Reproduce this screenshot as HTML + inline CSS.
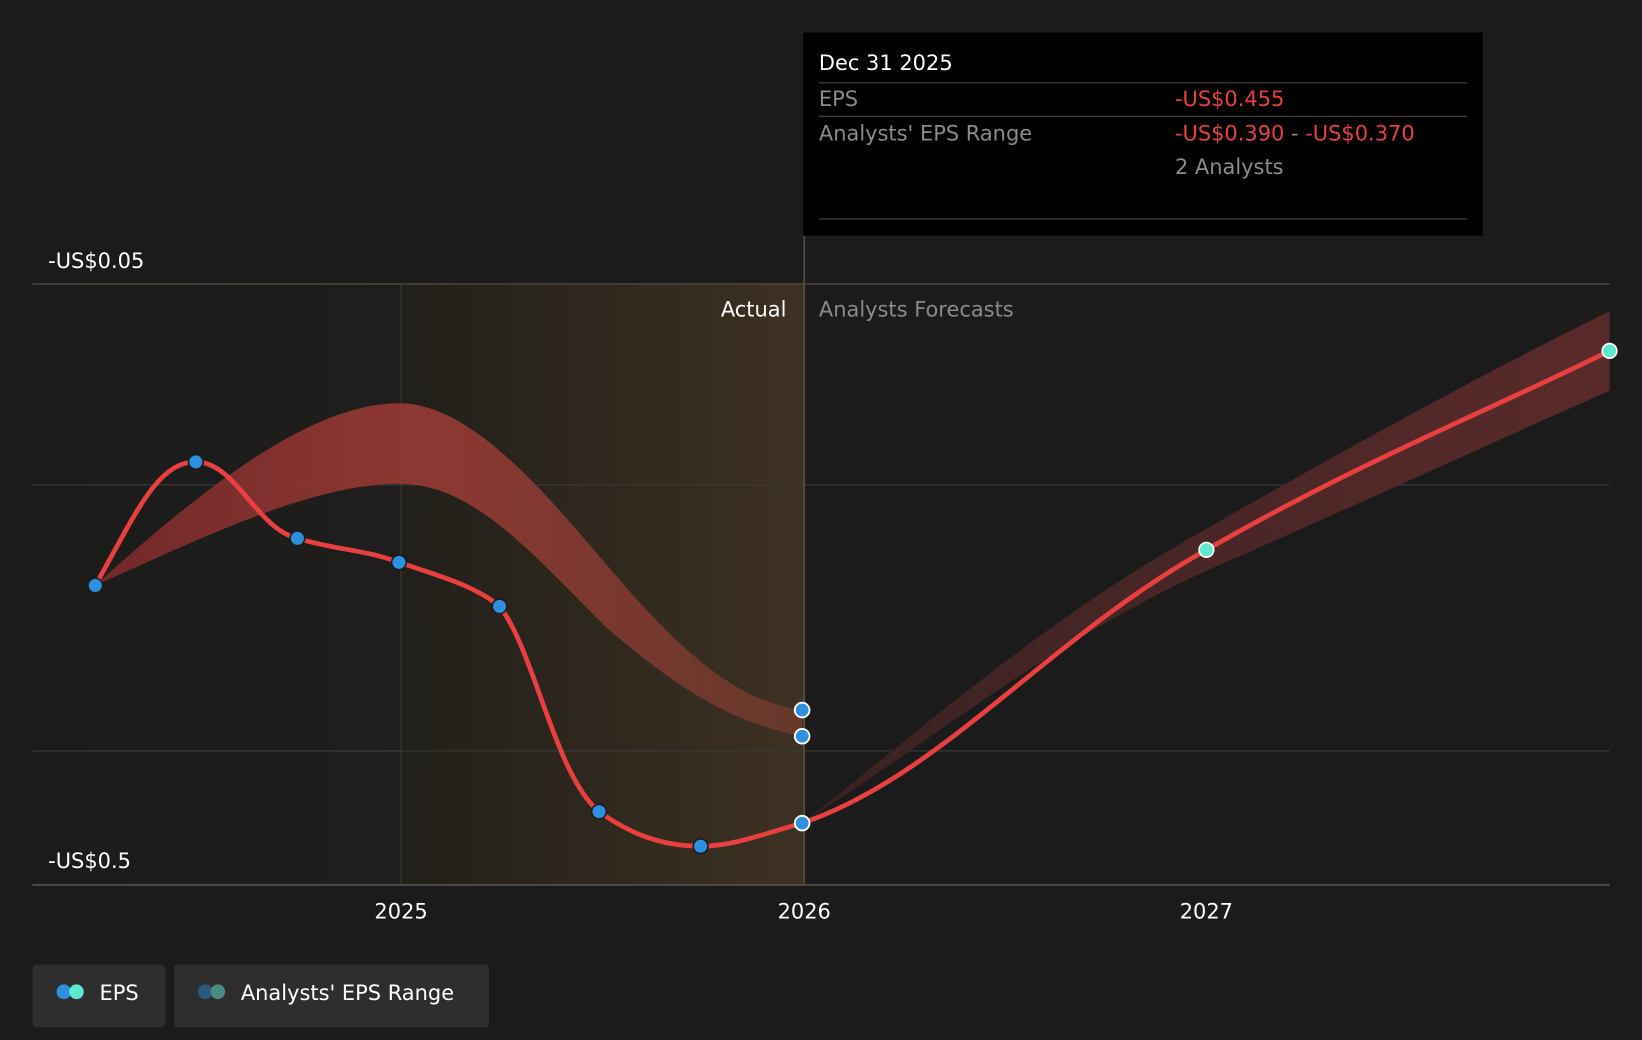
<!DOCTYPE html>
<html><head><meta charset="utf-8"><style>
html,body{margin:0;padding:0;background:#1b1b1b;}
svg{display:block;font-family:"DejaVu Sans","Liberation Sans",sans-serif;}
</style></head><body>
<svg width="1642" height="1040" viewBox="0 0 1568 993" xmlns="http://www.w3.org/2000/svg">
<defs>
<linearGradient id="act" x1="0" x2="1" y1="0" y2="0">
<stop offset="0" stop-color="#211f1a"/><stop offset="1" stop-color="#3d3122"/>
</linearGradient>
<linearGradient id="pre" x1="0" x2="1" y1="0" y2="0">
<stop offset="0" stop-color="#1b1b1b"/><stop offset="1" stop-color="#1f1e1c"/>
</linearGradient>
<linearGradient id="band1" x1="0" x2="1" y1="0" y2="0">
<stop offset="0" stop-color="#7a2a2a"/><stop offset="0.45" stop-color="#9a3a35"/><stop offset="1" stop-color="#6a3a2c"/>
</linearGradient>
<linearGradient id="band2" x1="0" x2="1" y1="0" y2="0">
<stop offset="0" stop-color="#3a2222"/><stop offset="1" stop-color="#5a2a2a"/>
</linearGradient>
</defs>
<rect width="1568" height="993" fill="#1b1b1b"/>
<rect x="31" y="271" width="352" height="574" fill="url(#pre)"/>
<rect x="383" y="271" width="385" height="574" fill="url(#act)"/>
<line x1="31" y1="271" x2="1537" y2="271" stroke="#4a4740" stroke-width="1.5"/>
<line x1="31" y1="463" x2="1537" y2="463" stroke="#3a3834" stroke-width="1.2"/>
<line x1="31" y1="717" x2="1537" y2="717" stroke="#3a3834" stroke-width="1.2"/>
<line x1="31" y1="845" x2="1537" y2="845" stroke="#555" stroke-width="1.5"/>
<line x1="383" y1="271" x2="383" y2="845" stroke="#3f3a30" stroke-width="1"/>
<line x1="768" y1="225" x2="768" y2="845" stroke="#5a5040" stroke-width="1.5"/>
<path d="M91,559 C200,460 300,385 381,385 C450,385 520,470 580,540 C660,635 710,670 766,678 L766,703 C700,690 650,660 580,600 C500,520 450,462 381,462 C300,462 200,510 91,559 Z" fill="url(#band1)" opacity="0.9"/>
<path d="M766,786 C900,680 1000,590 1152,505 C1300,420 1420,355 1537,297 L1537,373 C1420,425 1300,480 1152,545 C1000,615 900,700 766,786 Z" fill="url(#band2)"/>
<path d="M91,559 C130,490 150,441 187,441 C225,441 245,505 284,514 C320,525 350,525 381,537 C420,550 455,560 477,579 C510,620 530,740 572,775 C600,795 630,808 669,808 C700,808 730,796 766,786 C900,740 1000,610 1152,525 C1300,440 1420,393 1537,335" fill="none" stroke="#e84040" stroke-width="4.5" stroke-linecap="round"/>
<g stroke="#1b1b1b" stroke-width="1.5" fill="#2d8fdd">
<circle cx="91" cy="559" r="7"/><circle cx="187" cy="441" r="7"/><circle cx="284" cy="514" r="7"/>
<circle cx="381" cy="537" r="7"/><circle cx="477" cy="579" r="7"/><circle cx="572" cy="775" r="7"/><circle cx="669" cy="808" r="7"/>
</g>
<g stroke="#fff" stroke-width="1.8" fill="#2d8fdd">
<circle cx="766" cy="678" r="7"/><circle cx="766" cy="703" r="7"/><circle cx="766" cy="786" r="7"/>
</g>
<g stroke="#fff" stroke-width="1.5" fill="#5ee8d0">
<circle cx="1152" cy="525" r="7"/><circle cx="1537" cy="335" r="7"/>
</g>
<g font-size="20" fill="#fff">
<text x="46" y="256">-US$0.05</text>
<text x="46" y="829">-US$0.5</text>
<text x="751" y="302" text-anchor="end">Actual</text>
<text x="782" y="302" fill="#8a8a8a">Analysts Forecasts</text>
<text x="383" y="877" text-anchor="middle">2025</text>
<text x="768" y="877" text-anchor="middle">2026</text>
<text x="1152" y="877" text-anchor="middle">2027</text>
</g>
<rect x="767" y="31" width="649" height="194" fill="#000"/>
<g font-size="20">
<text x="782" y="67" fill="#fff">Dec 31 2025</text>
<line x1="782" y1="79" x2="1401" y2="79" stroke="#444"/>
<text x="782" y="101" fill="#8a8a8a">EPS</text>
<text x="1122" y="101" fill="#e84040">-US$0.455</text>
<line x1="782" y1="111" x2="1401" y2="111" stroke="#444"/>
<text x="782" y="134" fill="#8a8a8a">Analysts' EPS Range</text>
<text x="1122" y="134" fill="#e84040">-US$0.390 <tspan fill="#8a8a8a">-</tspan> -US$0.370</text>
<text x="1122" y="166" fill="#8a8a8a">2 Analysts</text>
<line x1="782" y1="209" x2="1401" y2="209" stroke="#444"/>
</g>
<rect x="31" y="921" width="127" height="60" rx="4" fill="#2e2e2e"/>
<circle cx="61" cy="947" r="7" fill="#2d8fdd"/><circle cx="73" cy="947" r="7" fill="#5ee8d0"/>
<text x="95" y="955" font-size="20" fill="#fff">EPS</text>
<rect x="166" y="921" width="301" height="60" rx="4" fill="#2e2e2e"/>
<circle cx="196" cy="947" r="7" fill="#2a5a80"/><circle cx="208" cy="947" r="7" fill="#4a8a80"/>
<text x="230" y="955" font-size="20" fill="#fff">Analysts' EPS Range</text>
</svg>
</body></html>
